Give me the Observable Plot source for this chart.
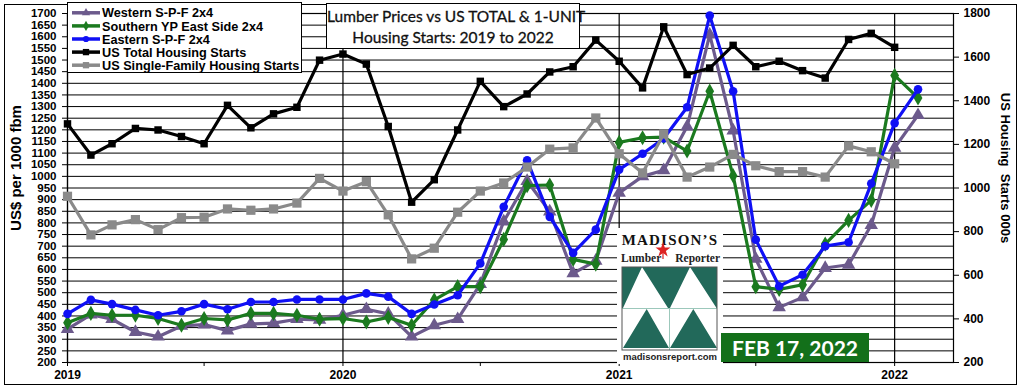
<!DOCTYPE html>
<html><head><meta charset="utf-8">
<script src="https://cdn.jsdelivr.net/npm/d3@7"></script>
<script src="https://cdn.jsdelivr.net/npm/@observablehq/plot@0.6"></script>
<style>
body{margin:0;background:#fff;}
#wrap{position:relative;width:1024px;height:391px;overflow:hidden;font-family:"Liberation Sans",Arial,sans-serif;background:#fff;}
#wrap > svg.chart{position:absolute;left:0;top:0;}
.frame{position:absolute;left:4px;top:4px;width:1011px;height:379px;border:1.5px solid #000;pointer-events:none;}
.legend{position:absolute;left:67px;top:2px;width:235px;height:71px;background:#fff;border:1px solid #000;box-sizing:border-box;}
.title{position:absolute;left:326px;top:3px;width:254px;height:46px;background:#fff;border:1px solid #000;box-sizing:border-box;
 font-family:Lato,"Open Sans",sans-serif;font-size:15.5px;font-weight:400;text-align:center;line-height:21px;padding-top:2px;color:#111;white-space:nowrap;-webkit-text-stroke:0.3px #111;}
.ylab{position:absolute;font-weight:bold;white-space:pre;color:#000;}
.logo{position:absolute;left:617px;top:228px;}
.date{position:absolute;left:721px;top:333px;width:148px;height:29px;background:#13701a;color:#fff;
 font-family:Lato,"Open Sans",sans-serif;font-weight:700;font-size:21px;line-height:29px;text-align:center;}
</style></head><body><div id="wrap"></div>
<script>
// ---- data ----
const startMonth = [2019, 0];
const westernSPF = [343,406,386,331,311,357,363,337,366,369,386,383,
  403,429,409,311,360,386,537,806,980,849,583,637,
  929,1000,1026,1214,1609,1197,645,437,480,606,620,791,
  1123,1263];
const southernYP = [371,411,403,403,389,360,389,383,411,411,403,386,
  389,374,394,360,469,526,526,729,960,963,643,623,
  1146,1166,1169,1109,1366,1003,526,514,534,709,811,897,
  1434,1337];
const easternSPF = [409,469,451,426,403,420,451,429,460,460,471,471,
  471,497,483,409,449,489,626,869,1069,826,671,771,
  1029,1097,1163,1297,1691,1366,728,528,577,700,717,969,
  1229,1374];
const totalStarts = [1294,1151,1203,1273,1266,1236,1203,1379,1276,1340,1370,1586,
  1614,1568,1282,935,1038,1266,1489,1373,1431,1532,1556,1678,
  1581,1459,1739,1520,1550,1654,1556,1581,1538,1504,1681,1709,
  1645];
const singleStarts = [962,785,831,855,809,864,866,904,898,904,931,1044,
  986,1029,877,675,724,889,986,1023,1096,1178,1184,1321,
  1157,1069,1248,1050,1096,1154,1102,1075,1075,1050,1193,1166,
  1111];
const leftTicks = d3.range(200, 1701, 50);
const rightTicks = [200,400,600,800,1000,1200,1400,1600,1800];
const yearLabels = [2019,2020,2021,2022];
const seriesNames = ["Western S-P-F 2x4","Southern YP East Side 2x4","Eastern S-P-F 2x4","US Total Housing Starts","US Single-Family Housing Starts"];

// ---- build ----
const L0 = 200, L1 = 1700, R0 = 200, R1 = 1800;
const toLeft = v => L0 + (v - R0) * (L1 - L0) / (R1 - R0);
const fromLeft = v => String(Math.round(R0 + (v - L0) * (R1 - R0) / (L1 - L0)));
const monthDate = i => new Date(Date.UTC(startMonth[0], startMonth[1] + i, 1));

const series = [
  {name: seriesNames[0], values: westernSPF, color: "#6c5a8c", symbol: "triangle", r: 5, right: false, d3s: d3.symbolTriangle},
  {name: seriesNames[1], values: southernYP, color: "#1b7a1f", symbol: "diamond", r: 4.6, right: false, d3s: d3.symbolDiamond},
  {name: seriesNames[2], values: easternSPF, color: "#1010f5", symbol: "circle", r: 4.3, right: false, d3s: d3.symbolCircle},
  {name: seriesNames[3], values: totalStarts, color: "#000000", symbol: "square", r: 4.2, right: true, d3s: d3.symbolSquare},
  {name: seriesNames[4], values: singleStarts, color: "#8a8a8a", symbol: "square", r: 5.2, right: true, d3s: d3.symbolSquare}
];
const rows = s => s.values.map((v, i) => ({date: monthDate(i), y: s.right ? toLeft(v) : v, v}));

const yearDates = yearLabels.map(y => new Date(Date.UTC(y, 0, 1)));
const julyDates = yearLabels.slice(0, 3).map(y => new Date(Date.UTC(y, 6, 1)));

const marks = [
  Plot.gridY(leftTicks, {stroke: "#000", strokeOpacity: 1, strokeWidth: 1}),
  Plot.ruleX(yearDates, {stroke: "#000", strokeWidth: 1.2}),
  Plot.frame({stroke: "#000", strokeWidth: 1.2}),
  Plot.axisY({ticks: leftTicks, tickSize: 5, tickPadding: 6, label: null, tickFormat: d => String(d), fontSize: 11.5}),
  Plot.axisY({anchor: "right", ticks: rightTicks.map(toLeft), tickFormat: fromLeft, tickSize: 5, tickPadding: 5, label: null}),
  Plot.axisX({ticks: yearDates, tickFormat: d => String(d.getUTCFullYear()), tickSize: 4, tickPadding: 4, label: null}),
  Plot.axisX({ticks: julyDates, tickFormat: () => "", tickSize: 4, label: null})
];
for (const s of series) {
  const data = rows(s);
  marks.push(Plot.line(data, {x: "date", y: "y", stroke: s.color, strokeWidth: 3.2}));
  marks.push(Plot.dot(data, {x: "date", y: "y", symbol: () => s.symbol, fill: s.color, stroke: "none", r: s.r}));
}

const chart = Plot.plot({
  width: 1024, height: 391,
  marginLeft: 67, marginRight: 71, marginTop: 13, marginBottom: 29,
  x: {type: "utc", domain: [new Date(Date.UTC(2019,0,1)), new Date(Date.UTC(2022,2,20))]},
  y: {domain: [L0, L1]},
  symbol: {type: "identity"},
  style: {fontFamily: "'Liberation Sans', Arial, sans-serif", fontSize: "12px", fontWeight: "bold", color: "#000", background: "#fff", overflow: "visible"},
  marks
});
chart.classList.add("chart");
const wrap = document.getElementById("wrap");
wrap.appendChild(chart);

// outer frame
const fr = document.createElement("div"); fr.className = "frame"; wrap.appendChild(fr);

// legend
const legend = d3.select(wrap).append("div").attr("class", "legend");
const lsvg = legend.append("svg").attr("width", 233).attr("height", 69).style("display", "block");
series.forEach((s, i) => {
  const g = lsvg.append("g").attr("transform", `translate(0,${9.8 + i * 13.1})`);
  g.append("line").attr("x1", 4).attr("x2", 32).attr("stroke", s.color).attr("stroke-width", 3.5);
  g.append("path").attr("d", d3.symbol(s.d3s, s.right ? 40 : 30)()).attr("transform", "translate(18,0)").attr("fill", s.color);
  g.append("text").attr("x", 34).attr("y", 4.6).attr("font-size", "12.7px").attr("font-weight", "bold")
    .attr("font-family", "'Liberation Sans', Arial, sans-serif").attr("fill", "#000").text(s.name);
});

// title
const t = document.createElement("div"); t.className = "title";
t.innerHTML = "Lumber Prices vs US TOTAL &amp; 1-UNIT<br>Housing Starts: 2019 to 2022";
wrap.appendChild(t);

// axis titles
const yl = document.createElement("div"); yl.className = "ylab"; yl.textContent = "US$ per 1000 fbm";
yl.style.fontSize = "15px";
yl.style.left = "15px"; yl.style.top = "168px"; yl.style.transform = "translate(-50%,-50%) rotate(-90deg)";
wrap.appendChild(yl);
const yr = document.createElement("div"); yr.className = "ylab"; yr.textContent = "US Housing  Starts 000s";
yr.style.fontSize = "13px";
yr.style.left = "1005px"; yr.style.top = "168px"; yr.style.transform = "translate(-50%,-50%) rotate(90deg)";
wrap.appendChild(yr);

// logo
const lg = d3.select(wrap).append("svg").attr("class", "logo").attr("width", 106).attr("height", 136);
lg.append("rect").attr("width", 106).attr("height", 136).attr("fill", "#fff");
lg.append("text").attr("x", 53).attr("y", 17).attr("text-anchor", "middle")
  .attr("font-family", "'Liberation Serif', serif").attr("font-weight", "bold").attr("font-size", "15px")
  .attr("letter-spacing", "1.2px").attr("fill", "#111").text("MADISON\u2019S");
lg.append("path").attr("d", d3.symbol(d3.symbolStar, 70)()).attr("transform", "translate(46,22)").attr("fill", "#d22");
lg.append("line").attr("x1", 46).attr("x2", 46).attr("y1", 24).attr("y2", 31).attr("stroke", "#d22").attr("stroke-width", 1.2);
lg.append("text").attr("x", 4).attr("y", 34).attr("font-family", "'Liberation Serif', serif").attr("font-weight", "bold")
  .attr("font-size", "11.5px").attr("fill", "#222").text("Lumber");
lg.append("text").attr("x", 103).attr("y", 34).attr("text-anchor", "end").attr("font-family", "'Liberation Serif', serif")
  .attr("font-weight", "bold").attr("font-size", "11.5px").attr("fill", "#222").text("Reporter");
const lgreen = "#22695a";
lg.append("rect").attr("x", 5).attr("y", 39).attr("width", 95).attr("height", 41).attr("fill", lgreen);
lg.append("path").attr("d", "M25,39 L6,80 L51,80 Z M73,39 L53,80 L99.5,80 Z").attr("fill", "#fff");
lg.append("rect").attr("x", 5).attr("y", 80).attr("width", 95).attr("height", 42).attr("fill", "#fff");
lg.append("path").attr("d", "M29.7,81 L6,120 L52,120 Z M76.3,81 L53,120 L100,120 Z").attr("fill", lgreen);
lg.append("line").attr("x1", 52.5).attr("x2", 52.5).attr("y1", 80).attr("y2", 122).attr("stroke", "#9cc8bb").attr("stroke-width", 1);
lg.append("line").attr("x1", 5).attr("x2", 100).attr("y1", 80.5).attr("y2", 80.5).attr("stroke", "#9cc8bb").attr("stroke-width", 1);
lg.append("rect").attr("x", 5).attr("y", 39).attr("width", 95).attr("height", 83).attr("fill", "none").attr("stroke", "#555").attr("stroke-width", 1);
lg.append("text").attr("x", 53).attr("y", 132).attr("text-anchor", "middle").attr("font-family", "'Liberation Sans', sans-serif")
  .attr("font-weight", "bold").attr("font-size", "9.5px").attr("fill", "#222").text("madisonsreport.com");

// date badge
const db = document.createElement("div"); db.className = "date"; db.textContent = "FEB 17, 2022";
wrap.appendChild(db);
</script></body></html>
